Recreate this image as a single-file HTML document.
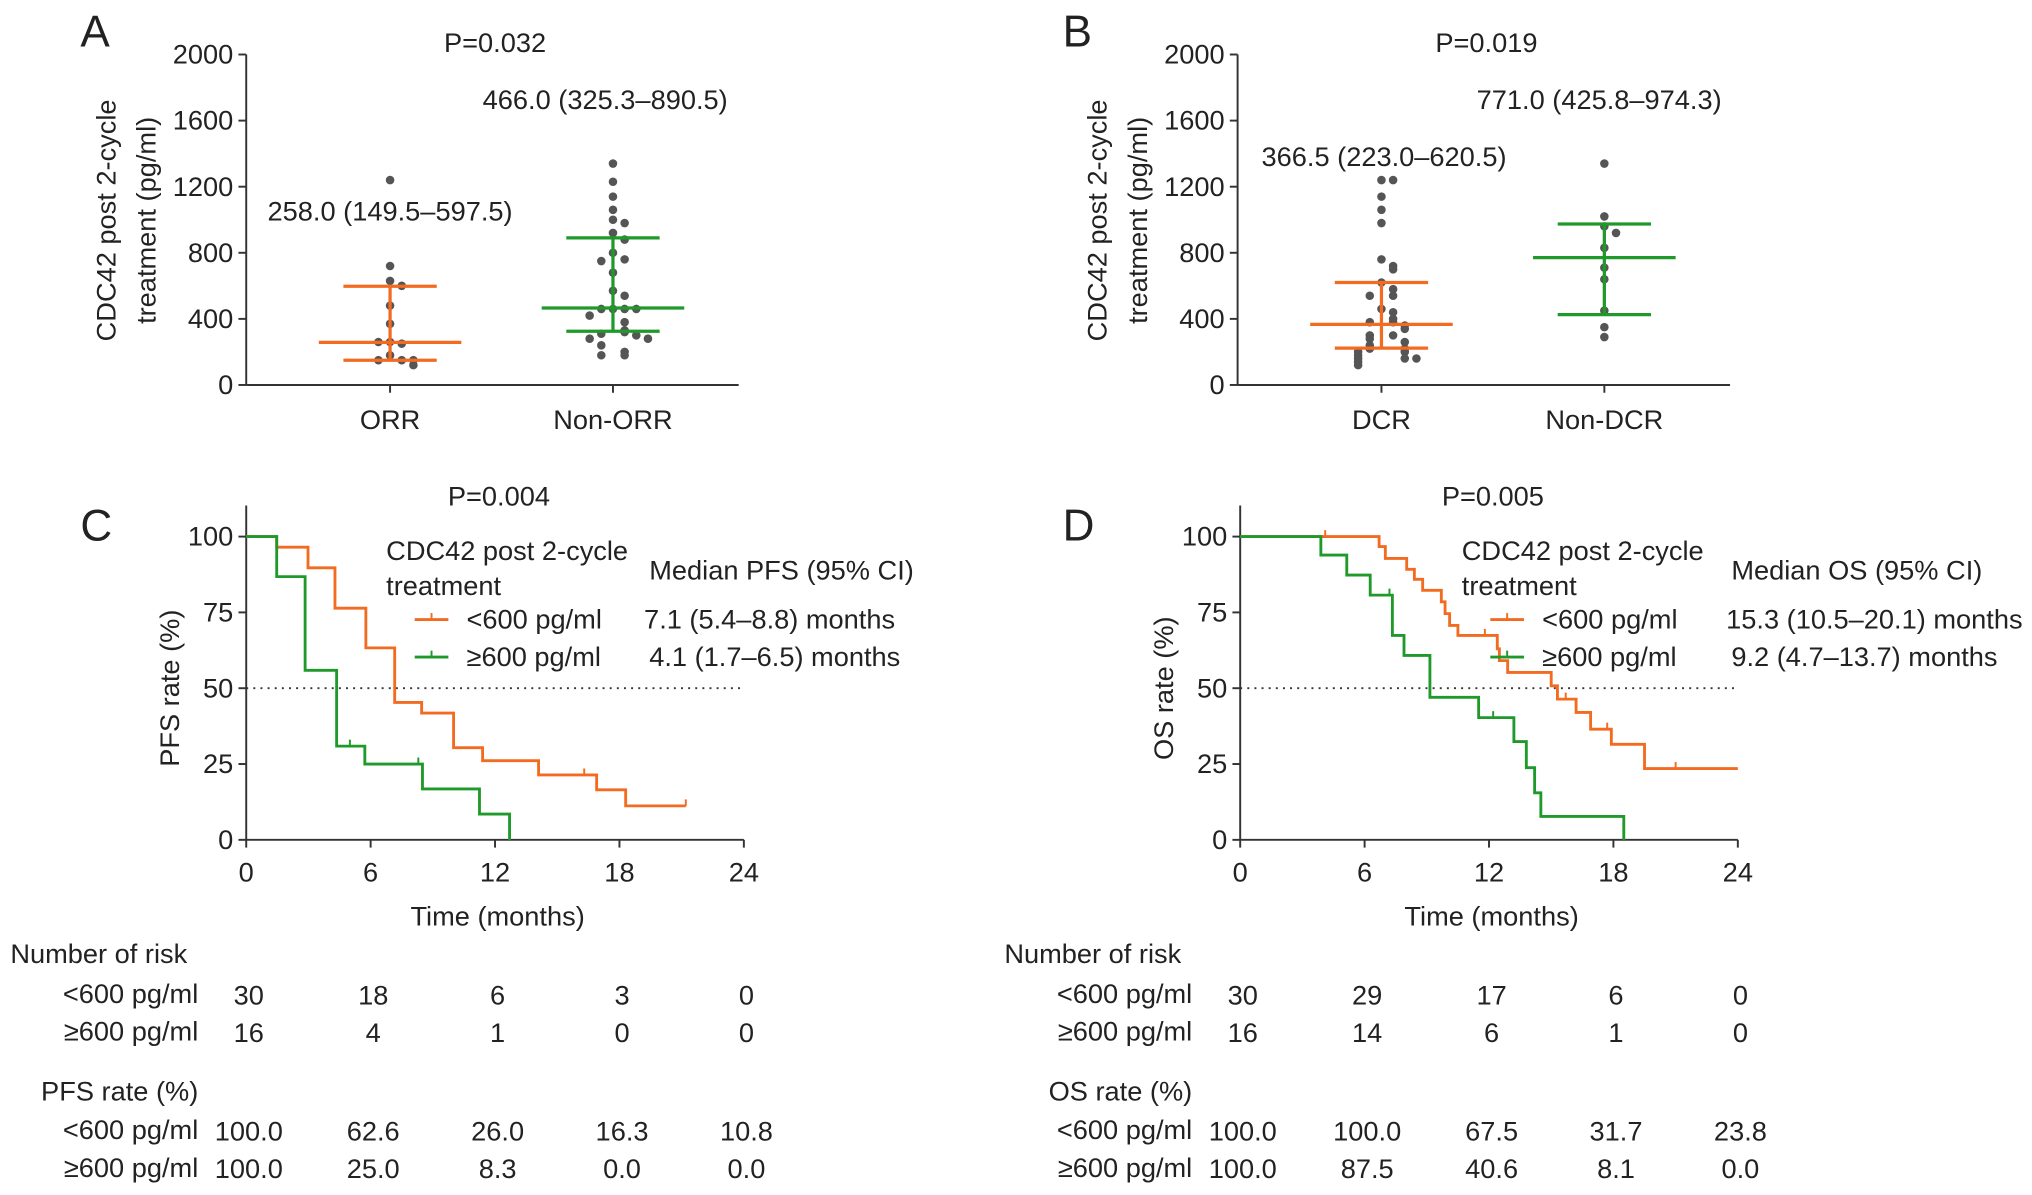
<!DOCTYPE html>
<html><head><meta charset="utf-8"><style>
html,body{margin:0;padding:0;background:#fff}
svg{display:block}
text{font-family:"Liberation Sans",Arial,sans-serif;fill:#222}
</style></head><body>
<svg id="fig" xmlns="http://www.w3.org/2000/svg" width="2032" height="1195" viewBox="0 0 1568 922">
</svg>
<script>
// ---- data ----
const orrVals=[1240,720,630,600,480,370,260,250,260,180,150,150,150,120];
const nonOrrVals=[1340,1230,1140,1060,1000,980,920,880,800,760,750,680,570,540,460,460,460,460,420,380,330,320,310,300,280,280,240,200,180,180];
const dcrVals=[1240,1240,1140,1060,980,760,720,700,620,580,540,540,460,440,400,380,380,360,340,300,300,280,260,240,220,220,200,200,180,160,160,160,140,120];
const nonDcrVals=[1340,1020,960,920,830,710,640,450,350,290];
const statsA=[[258.0,149.5,597.5],[466.0,325.3,890.5]];
const statsB=[[366.5,223.0,620.5],[771.0,425.8,974.3]];
const catsA=["ORR","Non-ORR"], catsB=["DCR","Non-DCR"];
const yTicksScatter=[0,400,800,1200,1600,2000];
const xTicksKM=[0,6,12,18,24];
const yTicksKM=[0,25,50,75,100];
const pfsLowT=[0,1.47,2.98,4.28,5.77,7.16,8.46,10.0,11.4,14.1,16.9,18.3,21.2];
const pfsLowS=[100,96.5,89.7,76.4,63.3,45.3,41.8,30.4,26.1,21.4,16.5,11.2,11.2];
const pfsHighT=[0,1.47,2.84,4.36,5.72,8.5,11.25,12.7];
const pfsHighS=[100,86.8,55.9,30.9,25,16.8,8.5,0];
const osLowT=[0,6.7,7.0,8.03,8.4,8.8,9.7,9.88,10.1,10.5,12.4,12.5,12.9,15.0,15.3,16.2,16.9,17.9,19.5,24];
const osLowS=[100,96.7,92.8,89.2,85.9,82.3,78.5,74.6,70.7,67.4,63,59.1,55.2,50.8,46.4,42,36.5,31.5,23.5,23.5];
const osHighT=[0,3.89,5.14,6.27,7.34,7.9,9.15,11.5,13.2,13.8,14.2,14.5,18.5];
const osHighS=[100,93.9,87.3,80.7,67.4,60.8,47,40.3,32.4,23.8,15.5,7.7,0];
const riskRows=[["30","18","6","3","0"],["16","4","1","0","0"]];
const rateRows=[["100.0","62.6","26.0","16.3","10.8"],["100.0","25.0","8.3","0.0","0.0"]];
const riskRowsD=[["30","29","17","6","0"],["16","14","6","1","0"]];
const rateRowsD=[["100.0","100.0","67.5","31.7","23.8"],["100.0","87.5","40.6","8.1","0.0"]];

const OR="#f26b21", GR="#1f9a2a", DOT="#555";
const FS=21;
const svg=document.getElementById('fig');
const NS="http://www.w3.org/2000/svg";
function el(tag,attrs,parent){const e=document.createElementNS(NS,tag);for(const k in attrs)e.setAttribute(k,attrs[k]);(parent||svg).appendChild(e);return e;}
function txt(x,y,s,size,anchor,name,parent){const t=el('text',{x:x,y:y,'font-size':size,'text-anchor':anchor||'start'},parent);t.textContent=s;


return t;}

function scatterPanel(x0,letter,letterX,cats,groups,stats,pval,labelPos){
  const g=el('g',{});
  
  
  const y=v=>297-v*255/2000;
  const cx=[x0+111,x0+283];
  const xEnd=x0+380;
  txt(letterX,36,letter,34,'start','panel-label-'+letter.toLowerCase(),g);
  el('line',{x1:x0,y1:42,x2:x0,y2:297,stroke:'#333','stroke-width':1.5},g);
  el('line',{x1:x0,y1:297,x2:xEnd,y2:297,stroke:'#333','stroke-width':1.5},g);
  yTicksScatter.forEach(v=>{el('line',{x1:x0-6,y1:y(v),x2:x0,y2:y(v),stroke:'#333','stroke-width':1.5},g);
    txt(x0-10,y(v)+7,String(v),FS,'end','y-tick-label',g);});
  cats.forEach((c,i)=>{el('line',{x1:cx[i],y1:297,x2:cx[i],y2:303,stroke:'#333','stroke-width':1.5},g);
    txt(cx[i],331,c,FS,'middle','x-tick-label',g);});
  const yl=txt(0,0,'',FS,'middle','y-axis-title',g);
  yl.setAttribute('transform',`translate(${x0-101},170) rotate(-90)`);
  const t1=el('tspan',{x:0,dy:0},yl);t1.textContent='CDC42 post 2-cycle';
  const t2=el('tspan',{x:0,dy:31},yl);t2.textContent='treatment (pg/ml)';
  txt(x0+192,40,pval,FS,'middle','p-value',g);
  groups.forEach((vals,i)=>{
    const col=i===0?OR:GR;
    const placed=[];
    vals.forEach(v=>{
      const near=placed.filter(p=>Math.abs(p-v)<60).length;
      placed.push(v);
      const off=near===0?0:(near%2?1:-1)*Math.ceil(near/2)*9;
      const c=el('circle',{cx:cx[i]+off,cy:y(v),r:3.3,fill:DOT},g);
      
      
    });
    const [m,q1,q3]=stats[i];
    el('line',{x1:cx[i],y1:y(q1),x2:cx[i],y2:y(q3),stroke:col,'stroke-width':2.5},g);
    el('line',{x1:cx[i]-55,y1:y(m),x2:cx[i]+55,y2:y(m),stroke:col,'stroke-width':2.5},g);
    el('line',{x1:cx[i]-36,y1:y(q1),x2:cx[i]+36,y2:y(q1),stroke:col,'stroke-width':2.5},g);
    el('line',{x1:cx[i]-36,y1:y(q3),x2:cx[i]+36,y2:y(q3),stroke:col,'stroke-width':2.5},g);
    txt(labelPos[i][0],labelPos[i][1],`${m.toFixed(1)} (${q1.toFixed(1)}–${q3.toFixed(1)})`,FS,'middle','median-iqr-label',g);
  });
}
scatterPanel(190,'A',62,catsA,[orrVals,nonOrrVals],statsA,'P=0.032',[[301,170],[467,84]]);
scatterPanel(955,'B',820,catsB,[dcrVals,nonDcrVals],statsB,'P=0.019',[[1068,128],[1234,84]]);

function kmPanel(x0,letter,letterX,lowT,lowS,highT,highS,pval,ytitle,medTitle,medLow,medHigh,risk,rate,rateTitle,tickLow,tickHigh,legX,medX){
  const g=el('g',{});
  
  
  const X=t=>x0+t*(384/24), Y=s=>648-s*2.34;
  txt(letterX,417,letter,34,'start','panel-label-'+letter.toLowerCase(),g);
  el('line',{x1:x0,y1:390,x2:x0,y2:648,stroke:'#333','stroke-width':1.5},g);
  el('line',{x1:x0,y1:648,x2:X(24),y2:648,stroke:'#333','stroke-width':1.5},g);
  yTicksKM.forEach(v=>{el('line',{x1:x0-6,y1:Y(v),x2:x0,y2:Y(v),stroke:'#333','stroke-width':1.5},g);
    txt(x0-10,Y(v)+7,String(v),FS,'end','y-tick-label',g);});
  xTicksKM.forEach(v=>{el('line',{x1:X(v),y1:648,x2:X(v),y2:654,stroke:'#333','stroke-width':1.5},g);
    txt(X(v),680,String(v),FS,'middle','x-tick-label',g);});
  txt(X(12)+2,714,'Time (months)',FS,'middle','x-axis-title',g);
  const yt=txt(0,0,ytitle,FS,'middle','y-axis-title',g);
  yt.setAttribute('transform',`translate(${x0-52},${Y(50)}) rotate(-90)`);
  txt(X(12)+3,390,pval,FS,'middle','p-value',g);
  el('line',{x1:x0,y1:Y(50),x2:X(24),y2:Y(50),stroke:'#333','stroke-width':1.5,'stroke-dasharray':'1.5 4'},g);
  [[lowT,lowS,OR,'curve-low'],[highT,highS,GR,'curve-high']].forEach(([T,S,col,name])=>{
    let d=`M${X(T[0])},${Y(S[0])}`;
    for(let i=1;i<T.length;i++){d+=` H${X(T[i])} V${Y(S[i])}`;}
    const p=el('path',{d:d,fill:'none',stroke:col,'stroke-width':2.2},g);
    
    
  });
  tickLow.forEach(t=>{const i=lowT.findIndex(v=>v>t)-1;const s=lowS[i<0?lowS.length-1:i];el('line',{x1:X(t),y1:Y(s),x2:X(t),y2:Y(s)-5,stroke:OR,'stroke-width':1.5},g);});
  tickHigh.forEach(t=>{const i=highT.findIndex(v=>v>t)-1;const s=highS[i<0?highS.length-1:i];el('line',{x1:X(t),y1:Y(s),x2:X(t),y2:Y(s)-5,stroke:GR,'stroke-width':1.5},g);});
  txt(legX,432,'CDC42 post 2-cycle',FS,'start','legend-title',g);
  txt(legX,459,'treatment',FS,'start','legend-title',g);
  el('line',{x1:legX+22,y1:478,x2:legX+48,y2:478,stroke:OR,'stroke-width':2.2},g);
  el('line',{x1:legX+35,y1:478,x2:legX+35,y2:473,stroke:OR,'stroke-width':1.5},g);
  txt(legX+62,485,'<600 pg/ml',FS,'start','legend-entry-low',g);
  el('line',{x1:legX+22,y1:507,x2:legX+48,y2:507,stroke:GR,'stroke-width':2.2},g);
  el('line',{x1:legX+35,y1:507,x2:legX+35,y2:502,stroke:GR,'stroke-width':1.5},g);
  txt(legX+62,514,'≥600 pg/ml',FS,'start','legend-entry-high',g);
  txt(medX,447,medTitle,FS,'start','median-title',g);
  txt(medX-4,485,medLow,FS,'start','median-low',g);
  txt(medX,514,medHigh,FS,'start','median-high',g);
  const lx=x0-182;
  txt(lx,743,'Number of risk',FS,'start','risk-table-title',g);
  txt(x0-37,774,'<600 pg/ml',FS,'end','risk-row-label',g);
  txt(x0-37,803,'≥600 pg/ml',FS,'end','risk-row-label',g);
  txt(x0-37,849,rateTitle,FS,'end','rate-table-title',g);
  txt(x0-37,879,'<600 pg/ml',FS,'end','rate-row-label',g);
  txt(x0-37,908,'≥600 pg/ml',FS,'end','rate-row-label',g);
  xTicksKM.forEach((t,j)=>{
    txt(X(t)+2,775,risk[0][j],FS,'middle','risk-value',g);
    txt(X(t)+2,804,risk[1][j],FS,'middle','risk-value',g);
    txt(X(t)+2,880,rate[0][j],FS,'middle','rate-value',g);
    txt(X(t)+2,909,rate[1][j],FS,'middle','rate-value',g);
  });
}
kmPanel(190,'C',62,pfsLowT,pfsLowS,pfsHighT,pfsHighS,'P=0.004','PFS rate (%)','Median PFS (95% CI)','7.1 (5.4–8.8) months','4.1 (1.7–6.5) months',riskRows,rateRows,'PFS rate (%)',[16.3,21.2],[5.0,8.3],298,501);
kmPanel(957,'D',820,osLowT,osLowS,osHighT,osHighS,'P=0.005','OS rate (%)','Median OS (95% CI)','15.3 (10.5–20.1) months','9.2 (4.7–13.7) months',riskRowsD,rateRowsD,'OS rate (%)',[4.1,11.8,15.7,17.7,21.0],[7.2,12.2],1128,1336);
</script>
</body></html>
